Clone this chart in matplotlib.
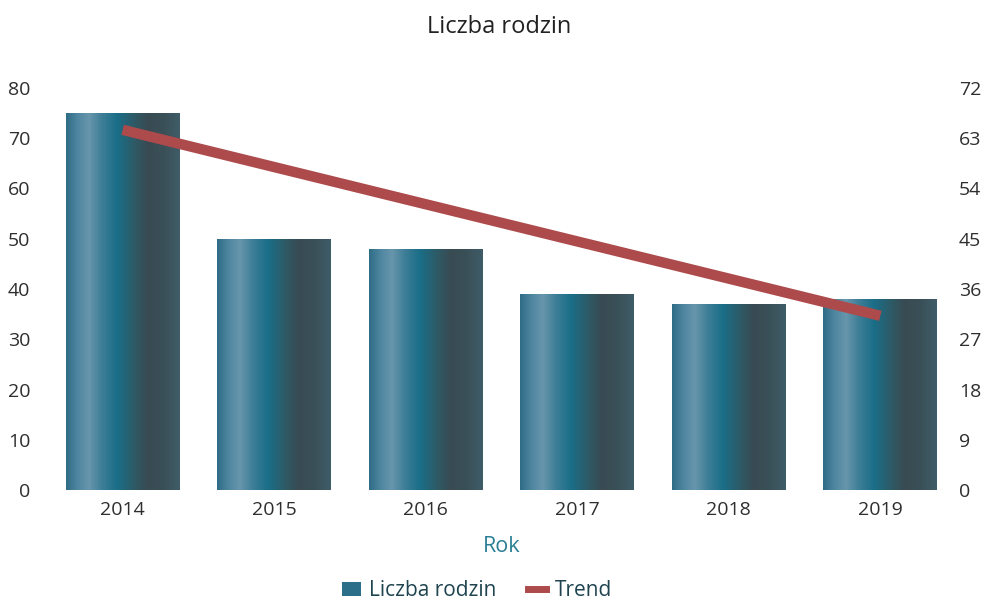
import numpy as np
import matplotlib.pyplot as plt
from matplotlib.colors import LinearSegmentedColormap
from matplotlib.patches import Patch
from matplotlib.lines import Line2D

plt.rcParams["font.family"] = ["Open Sans", "DejaVu Sans"]

lata = ["2014", "2015", "2016", "2017", "2018", "2019"]
liczba_rodzin = [75, 50, 48, 39, 37, 38]
trend_lata = ["2014", "2019"]
trend = [64.5, 31.2]

lewe_ticki = [0, 10, 20, 30, 40, 50, 60, 70, 80]
prawe_ticki = [0, 9, 18, 27, 36, 45, 54, 63, 72]

szary = "#2e2e2e"
morski = "#2a7f95"
czerwony = "#ad4a4b"

# walcowy gradient slupkow (jasny pas z lewej, ciemny z prawej)
gradient = LinearSegmentedColormap.from_list(
    "walec",
    [(0.0, "#2f6c86"), (0.1, "#4f86a0"), (0.2, "#6796ac"), (0.32, "#3c7d96"),
     (0.45, "#1a6e88"), (0.6, "#2e5a66"), (0.72, "#394b52"),
     (0.86, "#3a5058"), (1.0, "#3f5d68")],
)

fig = plt.figure(figsize=(9.98, 6.11), dpi=100)
ax = fig.add_axes([0.047, 0.198, 0.911, 0.658])
ax2 = ax.twinx()

x = np.arange(len(lata))
slupki = ax.bar(x, liczba_rodzin, width=0.75, color="none", edgecolor="none")
grad = np.linspace(0, 1, 256).reshape(1, -1)
for b in slupki:
    x0, w, h = b.get_x(), b.get_width(), b.get_height()
    im = ax.imshow(grad, cmap=gradient, aspect="auto",
                   extent=(x0, x0 + w, 0, h), zorder=2)
    im.set_clip_path(b)

ax.set_xlim(-0.5, len(lata) - 0.5)
ax.set_ylim(0, 80)
ax2.set_ylim(0, 72)

tx = [lata.index(r) for r in trend_lata]
ax2.plot(tx, trend, color=czerwony, lw=7.5, solid_capstyle="butt", zorder=3)

ax.set_xticks(x)
ax.set_xticklabels(lata)
ax.set_yticks(lewe_ticki)
ax2.set_yticks(prawe_ticki)
for a in (ax, ax2):
    for s in a.spines.values():
        s.set_visible(False)
    a.tick_params(length=0, labelsize=14, colors=szary, pad=8)
ax.tick_params(axis="y", pad=12)
ax2.tick_params(axis="y", pad=2)

ax.set_xlabel("Rok", fontsize=15.5, color=morski, labelpad=12)
fig.suptitle("Liczba rodzin", y=0.975, fontsize=17, color="#222222")

uchwyty = [
    Patch(facecolor="#2b6f88", edgecolor="none", label="Liczba rodzin"),
    Line2D([0], [0], color=czerwony, lw=5, label="Trend"),
]
fig.legend(handles=uchwyty, loc="lower center", bbox_to_anchor=(0.478, -0.015),
           ncol=2, frameon=False, fontsize=15, handlelength=0.9,
           handletextpad=0.4, columnspacing=1.5, labelcolor="#1f4450")

fig.savefig("out.png", dpi=100)
